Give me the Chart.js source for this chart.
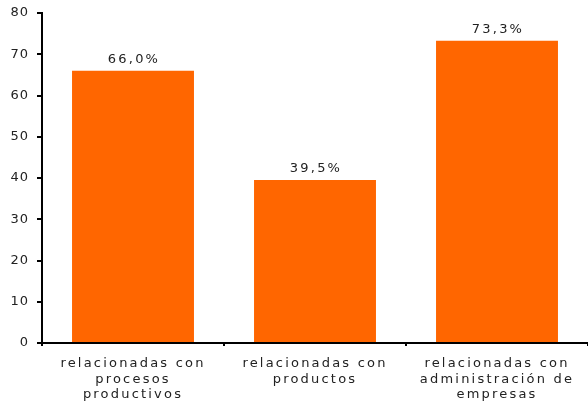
<!DOCTYPE html>
<html>
<head>
<meta charset="utf-8">
<script src="https://cdn.jsdelivr.net/npm/chart.js@4/dist/chart.umd.min.js"></script>
<style>
  html, body { margin: 0; padding: 0; background: #fff; }
  #wrap { width: 588px; height: 403px; }
</style>
</head>
<body>
<div id="wrap"><canvas id="chart"></canvas></div>
<script>
const categories = [
  ["relacionadas con", "procesos", "productivos"],
  ["relacionadas con", "productos"],
  ["relacionadas con", "administración de", "empresas"]
];
const values = [66.0, 39.5, 73.3];
const yTicks = [0, 10, 20, 30, 40, 50, 60, 70, 80];

const FONT = "'DejaVu Sans', Verdana, sans-serif";
const WIDE = "2.2px";

// spaced-out lettering for canvas text
const spacing = {
  id: "spacing",
  beforeUpdate(chart) { chart.ctx.letterSpacing = WIDE; },
  beforeDraw(chart) { chart.ctx.letterSpacing = WIDE; }
};

// percentage above each bar
const barLabels = {
  id: "barLabels",
  afterDatasetsDraw(chart) {
    const ctx = chart.ctx;
    const meta = chart.getDatasetMeta(0);
    ctx.save();
    ctx.font = "13px " + FONT;
    ctx.fillStyle = "#222";
    ctx.textAlign = "center";
    ctx.textBaseline = "alphabetic";
    meta.data.forEach((bar, i) => {
      const txt = values[i].toFixed(1).replace(".", ",") + "%";
      ctx.fillText(txt, bar.x + 1, bar.y - 8);
    });
    ctx.restore();
  }
};

new Chart(document.getElementById("chart"), {
  type: "bar",
  data: {
    labels: categories,
    datasets: [{
      data: values,
      backgroundColor: "#FF6600",
      borderWidth: 0,
      categoryPercentage: 1,
      barPercentage: 0.67
    }]
  },
  options: {
    responsive: true,
    maintainAspectRatio: false,
    animation: false,
    layout: { padding: { top: 13, right: 0, left: 0, bottom: 0 } },
    plugins: {
      legend: { display: false },
      tooltip: { enabled: false }
    },
    scales: {
      x: {
        grid: {
          offset: true,
          drawOnChartArea: false,
          drawTicks: true,
          tickLength: 3,
          color: "#000",
          lineWidth: 2
        },
        border: { color: "#000", width: 2 },
        ticks: {
          color: "#222",
          padding: 10,
          maxRotation: 0,
          autoSkip: false,
          font: { family: FONT, size: 13, lineHeight: 1.2 }
        },
        afterFit(scale) { scale.height = 60; }
      },
      y: {
        min: 0,
        max: 80,
        afterBuildTicks(scale) { scale.ticks = yTicks.map(v => ({ value: v })); },
        grid: {
          drawOnChartArea: false,
          drawTicks: true,
          tickLength: 5,
          color: "#000",
          lineWidth: 2
        },
        border: { color: "#000", width: 2 },
        ticks: {
          color: "#222",
          padding: 8,
          font: { family: FONT, size: 13 }
        },
        afterFit(scale) {
          scale.width = 42;
          // let the layout padding decide where the plot starts
          scale.paddingTop = 0;
          scale.paddingBottom = 0;
          // tighter spacing for the numbers on this axis
          if (!scale._narrow) {
            const draw = scale.drawLabels;
            scale.drawLabels = function (area) {
              this.ctx.letterSpacing = "1px";
              draw.call(this, area);
              this.ctx.letterSpacing = WIDE;
            };
            scale._narrow = true;
          }
        }
      }
    }
  },
  plugins: [spacing, barLabels]
});
</script>
</body>
</html>
